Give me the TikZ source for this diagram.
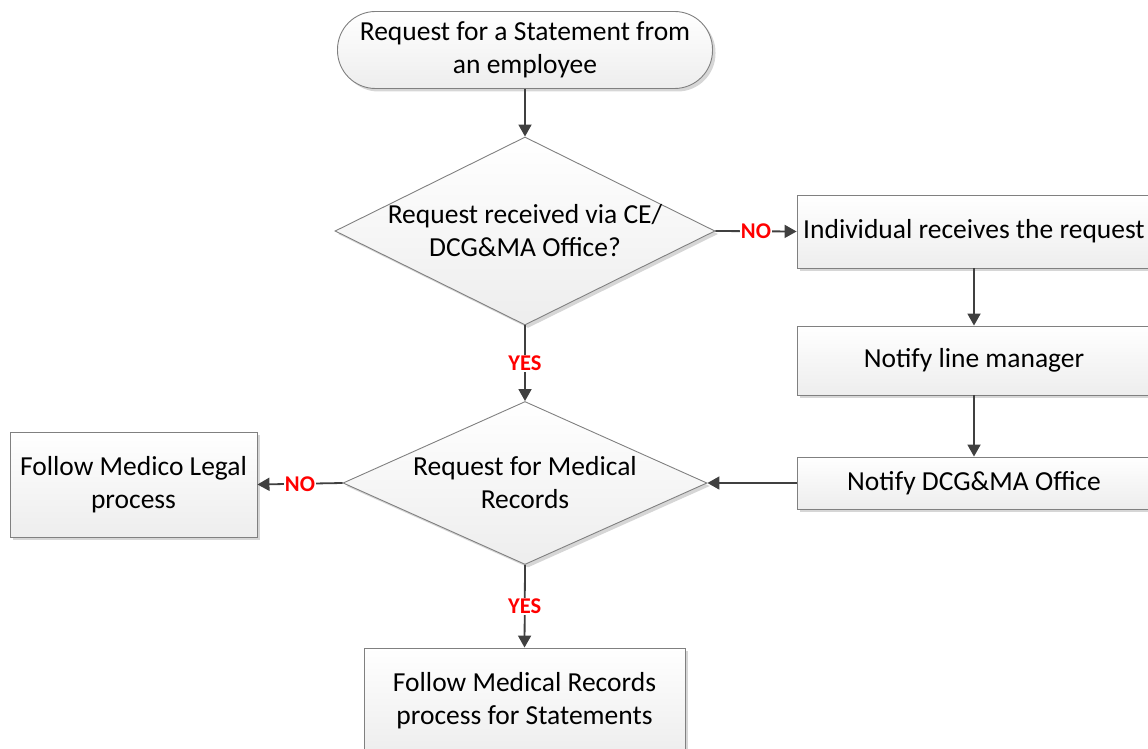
\documentclass[tikz,border=0pt]{standalone}
\usepackage{fontspec}
\setmainfont{Carlito}
\usetikzlibrary{shapes.geometric,arrows.meta,shadows}
\definecolor{linegray}{HTML}{404040}
\definecolor{edgegray}{HTML}{808080}
\definecolor{lblred}{HTML}{FF0000}
\begin{document}
\begin{tikzpicture}[x=1pt,y=-1pt,
  shape base/.style={draw=edgegray, line width=0.9pt, top color=white, bottom color=black!7,
    drop shadow={shadow xshift=3pt, shadow yshift=-3pt, fill=black, opacity=0.16},
    font=\fontsize{27.5}{33}\selectfont, align=center, inner sep=0pt},
  procbox/.style={shape base, rectangle},
  termbox/.style={shape base, rectangle, rounded corners=38pt},
  decbox/.style={shape base, diamond},
  txt/.style={font=\fontsize{27.5}{33}\selectfont, align=center, inner sep=0pt},
  conn/.style={draw=linegray, line width=1.8pt, -{Triangle[length=12pt,width=13pt]}},
  lbl/.style={font=\fontsize{22.5}{24}\selectfont\bfseries, text=lblred, fill=white, inner sep=1pt}
]
\useasboundingbox (0,0) rectangle (1148,749);
\clip (0,0) rectangle (1148,749);

\node[termbox, minimum width=375pt, minimum height=77pt] (start) at (525,50)
  {Request for a Statement from\\an employee};

\node[decbox, minimum width=380pt, minimum height=188pt] (d1) at (525,231) {};
\node[txt] (d1t) at (525,231) {Request received via CE/\\DCG\&MA Office?};

\node[procbox, minimum width=354pt, minimum height=73pt] (indiv) at (974,231.5) {};
\node[txt, anchor=west] (indivt) at (803,231.5) {Individual receives the request};

\node[procbox, minimum width=354pt, minimum height=69pt] (notlm) at (974,360.5) {Notify line manager};

\node[procbox, minimum width=354pt, minimum height=52pt] (notdcg) at (974,483) {Notify DCG\&MA Office};

\node[decbox, minimum width=364pt, minimum height=163pt] (d2) at (525,483) {};
\node[txt] (d2t) at (525,483) {Request for Medical\\Records};

\node[procbox, minimum width=247pt, minimum height=105pt] (medico) at (133.5,484.5)
  {Follow Medico Legal\\process};

\node[procbox, minimum width=321pt, minimum height=106pt] (medrec) at (524.5,701)
  {Follow Medical Records\\process for Statements};

\draw[conn] (start.south) -- (d1.north);
\draw[conn] (d1.east) -- node[lbl] {NO} (indiv.west);
\draw[conn] (d1.south) -- node[lbl] {YES} (d2.north);
\draw[conn] (indiv.south) -- (notlm.north);
\draw[conn] (notlm.south) -- (notdcg.north);
\draw[conn] (notdcg.west) -- (d2.east);
\draw[conn] (d2.west) -- node[lbl] {NO} (medico.east);
\draw[conn] (d2.south) -- node[lbl] {YES} (medrec.north);
\end{tikzpicture}
\end{document}
